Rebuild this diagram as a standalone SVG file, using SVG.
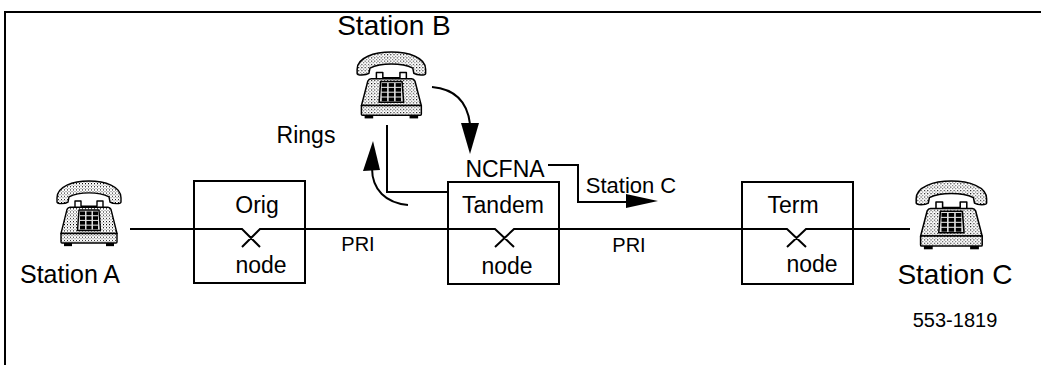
<svg xmlns="http://www.w3.org/2000/svg" width="1041" height="365" viewBox="0 0 1041 365">
  <style>
    .t { font-family: "Liberation Sans", Arial, sans-serif; fill: #000; }
    .lbl { font-size: 23px; }
    .st { font-size: 25px; }
    .stl { font-size: 28px; }
    .mid { font-size: 22px; }
    .sm { font-size: 20px; }
    .box { fill: #fff; stroke: #000; stroke-width: 2; }
    .ln { fill: none; stroke: #000; stroke-width: 2; }
    .ph { stroke: #000; stroke-width: 1.4; stroke-linejoin: round; }
  </style>
  <defs>
    <!-- stippled grey used on the telephone bodies -->
    <pattern id="dots" width="3" height="3" patternUnits="userSpaceOnUse">
      <rect width="3" height="3" fill="#fff"/>
      <rect width="1" height="1" fill="#000"/>
      <rect x="1.5" y="1.5" width="1" height="1" fill="#666"/>
    </pattern>
    <!-- desk telephone, 68 x 64 -->
    <g id="phone">
      <path class="ph" fill="url(#dots)" d="M2,17 C2,6 18,1 34,1 C50,1 66,6 66,17 L66,21 C66,23 58,23 55,21 L54,16 C44,11 24,11 14,16 L13,21 C10,23 2,23 2,21 Z"/>
      <path class="ph" fill="#fff" d="M20,28 L20,20 L26,20 L26,25 L42,25 L42,20 L48,20 L48,28"/>
      <path class="ph" fill="url(#dots)" d="M15,26 L53,26 Q55,26 56,28 L62,51 L6,51 L12,28 Q13,26 15,26 Z"/>
      <path class="ph" fill="#ddd" d="M24,28.5 L44,28.5 L45.5,48 L22.5,48 Z"/>
      <g fill="#000">
        <rect x="25" y="30" width="5" height="3.5"/><rect x="31.5" y="30" width="5" height="3.5"/><rect x="38" y="30" width="5" height="3.5"/>
        <rect x="25" y="34.5" width="5" height="3.5"/><rect x="31.5" y="34.5" width="5" height="3.5"/><rect x="38" y="34.5" width="5" height="3.5"/>
        <rect x="25" y="39" width="5" height="3.5"/><rect x="31.5" y="39" width="5" height="3.5"/><rect x="38" y="39" width="5" height="3.5"/>
        <rect x="25" y="43.5" width="5" height="3.5"/><rect x="31.5" y="43.5" width="5" height="3.5"/><rect x="38" y="43.5" width="5" height="3.5"/>
      </g>
      <path class="ph" fill="url(#dots)" d="M6,51 L62,51 L62,59 Q62,60 61,60 L7,60 Q6,60 6,59 Z"/>
      <rect x="9" y="60" width="8" height="3" fill="#000"/>
      <rect x="51" y="60" width="8" height="3" fill="#000"/>
    </g>
  </defs>

  <rect width="1041" height="365" fill="#fff"/>
  <!-- frame -->
  <path class="ln" stroke-width="2.5" d="M5,365 L5,12 L1041,12"/>

  <g id="station-a">
    <use href="#phone" transform="translate(55,180) scale(1.0,1.05)"/>
    <text class="t st" x="70" y="283" text-anchor="middle">Station A</text>
  </g>
  <g id="station-b">
    <use href="#phone" transform="translate(355,51) scale(1.07)"/>
    <text class="t stl" x="394" y="35" text-anchor="middle">Station B</text>
  </g>
  <g id="station-c">
    <use href="#phone" transform="translate(914,180) scale(1.1)"/>
    <text class="t stl" x="955" y="284" text-anchor="middle">Station C</text>
  </g>

  <g id="orig-node">
    <rect class="box" x="194" y="181" width="111" height="102"/>
    <text class="t lbl" x="257" y="213" text-anchor="middle">Orig</text>
    <text class="t lbl" x="261" y="273" text-anchor="middle">node</text>
  </g>
  <g id="tandem-node">
    <rect class="box" x="448" y="182" width="111" height="102"/>
    <text class="t lbl" x="503" y="213" text-anchor="middle">Tandem</text>
    <text class="t lbl" x="507" y="274" text-anchor="middle">node</text>
  </g>
  <g id="term-node">
    <rect class="box" x="742" y="182" width="111" height="102"/>
    <text class="t lbl" x="793" y="213" text-anchor="middle">Term</text>
    <text class="t lbl" x="812" y="272" text-anchor="middle">node</text>
  </g>

  <g id="connectors">
    <!-- PRI trunk with switching crosspoints -->
    <path class="ln" d="M130,229 L242,229 L260,247 M242,247 L260,229 L495,229 L514,247 M495,247 L514,229 L787,229 L806,247 M787,247 L806,229 L910,229"/>
    <!-- Station B ringing path -->
    <path class="ln" d="M387,125 L387,192 L448,192"/>
    <path class="ln" d="M408,205 C386,203 372,190 372,168"/>
    <polygon points="373,141 363,171 380,170" fill="#000"/>
    <!-- no answer back to tandem -->
    <path class="ln" d="M432,87 Q466,90 470,124"/>
    <polygon points="461,123 479,123 470,154" fill="#000"/>
    <!-- forward to Station C -->
    <path class="ln" d="M548,165 L578,165 L578,202 L628,202"/>
    <polygon points="626,194 658,201 626,208" fill="#000"/>
  </g>

  <g id="labels">
    <text class="t lbl" x="306" y="143" text-anchor="middle">Rings</text>
    <text class="t lbl" x="505" y="177" text-anchor="middle">NCFNA</text>
    <text class="t mid" x="631" y="193" text-anchor="middle">Station C</text>
    <text class="t sm" x="358" y="251" text-anchor="middle">PRI</text>
    <text class="t sm" x="629" y="252" text-anchor="middle">PRI</text>
    <text class="t sm" x="955" y="327" text-anchor="middle">553-1819</text>
  </g>
</svg>
